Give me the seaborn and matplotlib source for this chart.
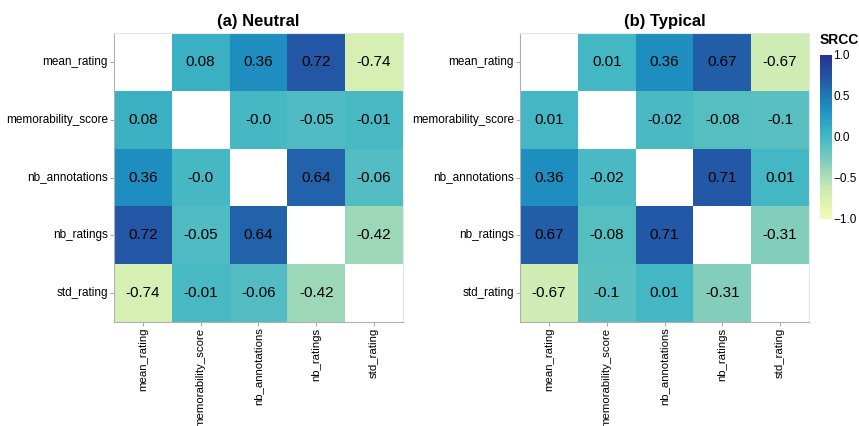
import numpy as np
import pandas as pd
import matplotlib.pyplot as plt
import seaborn as sns
from matplotlib.colors import LinearSegmentedColormap

variables = ['mean_rating', 'memorability_score', 'nb_annotations', 'nb_ratings', 'std_rating']

# upper-triangle pairs, row by row
neutral_pairs = [0.08, 0.36, 0.72, -0.74,
                 -0.0, -0.05, -0.01,
                 0.64, -0.06,
                 -0.42]
typical_pairs = [0.01, 0.36, 0.67, -0.67,
                 -0.02, -0.08, -0.1,
                 0.71, 0.01,
                 -0.31]

titles = ['(a) Neutral', '(b) Typical']


def build_matrix(pairs):
    n = len(variables)
    m = np.full((n, n), np.nan)
    k = 0
    for i in range(n):
        for j in range(i + 1, n):
            m[i, j] = pairs[k]
            m[j, i] = pairs[k]
            k += 1
    return pd.DataFrame(m, index=variables, columns=variables)


base = plt.get_cmap('YlGnBu')
cmap = LinearSegmentedColormap.from_list('ylgnbu_cut', base(np.linspace(0.1, 0.88, 256)))

plt.rcParams['font.family'] = ['Liberation Sans', 'DejaVu Sans']

fig = plt.figure(figsize=(8.59, 4.26), dpi=100)
ax1 = fig.add_axes([0.1327, 0.2441, 0.3364, 0.6784])
ax2 = fig.add_axes([0.6054, 0.2441, 0.3364, 0.6784])
cax = fig.add_axes([0.9546, 0.486, 0.014, 0.385])

for ax, pairs, title, show_cbar in [(ax1, neutral_pairs, titles[0], False),
                                    (ax2, typical_pairs, titles[1], True)]:
    df = build_matrix(pairs)
    annot = df.map(lambda v: '' if np.isnan(v) else str(v))
    sns.heatmap(df, ax=ax, cmap=cmap, vmin=-1, vmax=1, annot=annot.values, fmt='',
                annot_kws={'color': 'black', 'fontsize': 11},
                cbar=show_cbar, cbar_ax=cax if show_cbar else None,
                square=False)
    ax.set_title(title, fontsize=12, fontweight='bold', pad=5)
    ax.set_xticklabels(variables, rotation=90, fontsize=8.2)
    ax.set_yticklabels(variables, rotation=0, fontsize=8.5)
    ax.tick_params(axis='both', length=3, color='#aaaaaa', width=0.8, pad=1.5)
    ax.tick_params(axis='x', pad=1)
    for name, sp in ax.spines.items():
        sp.set_visible(True)
        sp.set_linewidth(0.8)
        sp.set_color('#b0b0b0' if name in ('left', 'bottom') else '#e6e6e6')

cax.tick_params(length=0, labelsize=8.5, pad=1)
cax.set_yticks([-1.0, -0.5, 0.0, 0.5, 1.0])
for sp in cax.spines.values():
    sp.set_visible(False)
fig.text(0.9546, 0.89, 'SRCC', fontsize=10, fontweight='bold', ha='left', va='bottom')

fig.savefig('out.png', dpi=100)
